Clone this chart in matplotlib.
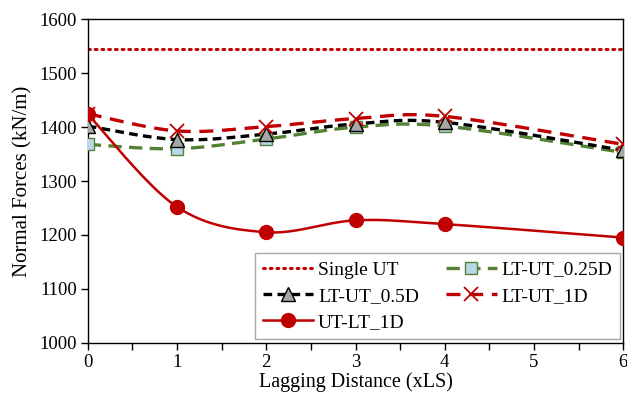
import numpy as np
import matplotlib
matplotlib.use("Agg")
import matplotlib.pyplot as plt
from matplotlib.lines import Line2D

plt.rcParams['font.family'] = ['Liberation Serif', 'DejaVu Serif']

# lagging distance (xLS) and normal forces (kN/m)
lag = [0, 1, 2, 3, 4, 6]
single_ut = 1545
lt_ut_025d = [1368, 1360, 1378, 1400, 1402, 1353]
lt_ut_05d = [1402, 1377, 1387, 1406, 1409, 1357]
lt_ut_1d = [1425, 1393, 1401, 1416, 1420, 1368]
ut_lt_1d = [1424, 1252, 1205, 1227, 1220, 1195]


def smooth(xs, ys, n=40):
    # spreadsheet-style smoothed line: cubic Bezier with 1/6 tangents
    p = np.column_stack([xs, ys]).astype(float)
    pts = []
    for i in range(len(p) - 1):
        p0 = p[max(i - 1, 0)]
        p1 = p[i]
        p2 = p[i + 1]
        p3 = p[min(i + 2, len(p) - 1)]
        c1 = p1 + (p2 - p0) / 6.0
        c2 = p2 - (p3 - p1) / 6.0
        t = np.linspace(0, 1, n)[:, None]
        seg = ((1 - t) ** 3 * p1 + 3 * (1 - t) ** 2 * t * c1
               + 3 * (1 - t) * t ** 2 * c2 + t ** 3 * p2)
        pts.append(seg if i == 0 else seg[1:])
    pts = np.vstack(pts)
    return pts[:, 0], pts[:, 1]


fig = plt.figure(figsize=(6.27, 3.97), dpi=100)
ax = fig.add_axes([0.14, 0.137, 0.854, 0.814])

red = '#C00000'
green = '#548235'

ax.axhline(single_ut, color=red, lw=2.2, ls=(0, (0.6, 1.6)),
           dash_capstyle='round', zorder=2)

series = [
    (lt_ut_025d, dict(color=green, lw=2.4, ls=(0, (4, 2.2))),
     dict(marker='s', ms=8.5, mfc='#B9D7EA', mec=green, mew=1.0)),
    (lt_ut_05d, dict(color='black', lw=2.4, ls=(0, (2.6, 1.6))),
     dict(marker='^', ms=9.5, mfc='#A6A6A6', mec='black', mew=1.0)),
    (lt_ut_1d, dict(color=red, lw=2.4, ls=(0, (4.2, 2.6))),
     dict(marker='x', ms=9.5, mec=red, mew=1.3)),
    (ut_lt_1d, dict(color=red, lw=1.8, ls='-'),
     dict(marker='o', ms=10, mfc=red, mec=red)),
]
for ys, lstyle, mstyle in series:
    sx, sy = smooth(lag, ys)
    ax.plot(sx, sy, zorder=3, **lstyle)
    ax.plot(lag, ys, ls='none', zorder=4, **mstyle)

ax.set_xlim(0, 6)
ax.set_ylim(1000, 1600)
ax.set_xticks(range(0, 7))
ax.set_xticks(np.arange(0.5, 6, 0.5), minor=True)
ax.set_yticks(range(1000, 1601, 100))
ax.tick_params(direction='out', length=5, width=1, labelsize=13.5, pad=3)
ax.tick_params(axis='x', which='minor', direction='out', length=5, width=1)
for s in ax.spines.values():
    s.set_linewidth(1.0)
ax.set_xlabel('Lagging Distance (xLS)', fontsize=14.5, labelpad=1)
ax.set_ylabel('Normal Forces (kN/m)', fontsize=15, labelpad=5)

handles = [
    Line2D([], [], color=red, lw=2.2, ls=(0, (0.6, 1.6)), dash_capstyle='round'),
    Line2D([], [], color='black', lw=2.4, ls=(0, (2.6, 1.6)), marker='^', ms=9.5,
           mfc='#A6A6A6', mec='black', mew=1.0),
    Line2D([], [], color=red, lw=1.8, marker='o', ms=10, mfc=red, mec=red),
    Line2D([], [], color=green, lw=2.4, ls=(0, (4, 2.2)), marker='s', ms=8.5,
           mfc='#B9D7EA', mec=green, mew=1.0),
    Line2D([], [], color=red, lw=2.4, ls=(0, (4.2, 2.6)), marker='x', ms=9.5,
           mec=red, mew=1.3),
]
labels = ['Single UT', 'LT-UT_0.5D', 'UT-LT_1D', 'LT-UT_0.25D', 'LT-UT_1D']
leg = ax.legend(handles, labels, ncol=2, loc='lower right',
                bbox_to_anchor=(0.994, 0.011), borderaxespad=0, fontsize=14,
                frameon=True, fancybox=False, edgecolor='#A6A6A6', framealpha=1,
                handlelength=2.6, handletextpad=0.25, columnspacing=1.4,
                labelspacing=0.45, borderpad=0.4, numpoints=1)
leg.get_frame().set_linewidth(1.0)

fig.savefig('out.png', dpi=100)
